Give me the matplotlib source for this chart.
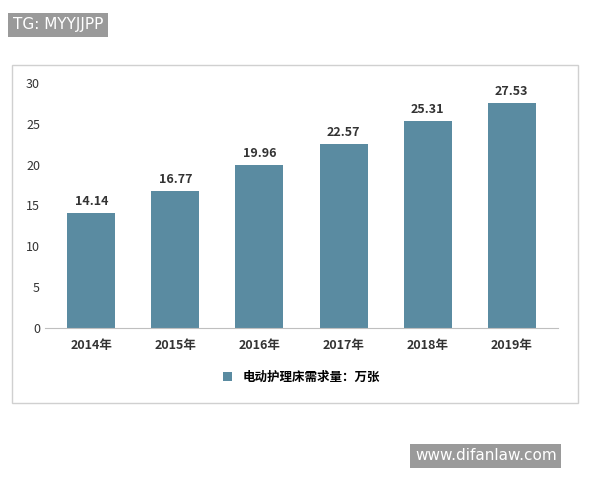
import matplotlib
matplotlib.use("Agg")
import matplotlib.pyplot as plt
from matplotlib.patches import Rectangle

plt.rcParams['font.family'] = ['Noto Sans CJK SC', 'DejaVu Sans']

years = ['2014年', '2015年', '2016年', '2017年', '2018年', '2019年']
values = [14.14, 16.77, 19.96, 22.57, 25.31, 27.53]
series_name = '电动护理床需求量：万张'
color = '#5a8ba1'

fig = plt.figure(figsize=(6, 4.8), dpi=100)
fig.patches.append(Rectangle((12/600, 1-403/480), 566/600, 338/480, transform=fig.transFigure,
                             fill=False, edgecolor='#d0d0d0', lw=1))
ax = fig.add_axes([0.075, 1-328/480, 0.855, 245/480])
x = range(len(years))
bars = ax.bar(x, values, width=0.57, color=color, label=series_name)
for xi, v in zip(x, values):
    ax.text(xi, v + 0.6, f'{v:.2f}', ha='center', va='bottom', fontsize=9, fontweight='bold', color='#333333')
ax.set_ylim(0, 30)
ax.set_xlim(-0.55, 5.55)
ax.set_yticks(range(0, 31, 5))
ax.set_xticks(list(x))
ax.set_xticklabels(years, fontsize=9, fontweight='bold', color='#333333')
ax.tick_params(axis='y', labelsize=9, colors='#333333', length=0)
ax.tick_params(axis='x', length=0, pad=8)
for s in ['top', 'right', 'left']:
    ax.spines[s].set_visible(False)
ax.spines['bottom'].set_color('#bfbfbf')
ax.legend(loc='upper center', bbox_to_anchor=(0.5, -0.13), frameon=False,
          prop={'size': 9, 'weight': 'bold'}, handlelength=0.7, handleheight=0.7)

fig.text(13/600, 1-25/480, 'TG: MYYJJPP', fontsize=11, color='white', va='center',
         family='DejaVu Sans', bbox=dict(boxstyle='square,pad=0.3', fc='#9a9a9a', ec='none'))
fig.text(415/600, 1-456/480, 'www.difanlaw.com', fontsize=11, color='white', va='center',
         family='DejaVu Sans', bbox=dict(boxstyle='square,pad=0.3', fc='#9a9a9a', ec='none'))
fig.savefig('out.png', dpi=100, facecolor='white')
